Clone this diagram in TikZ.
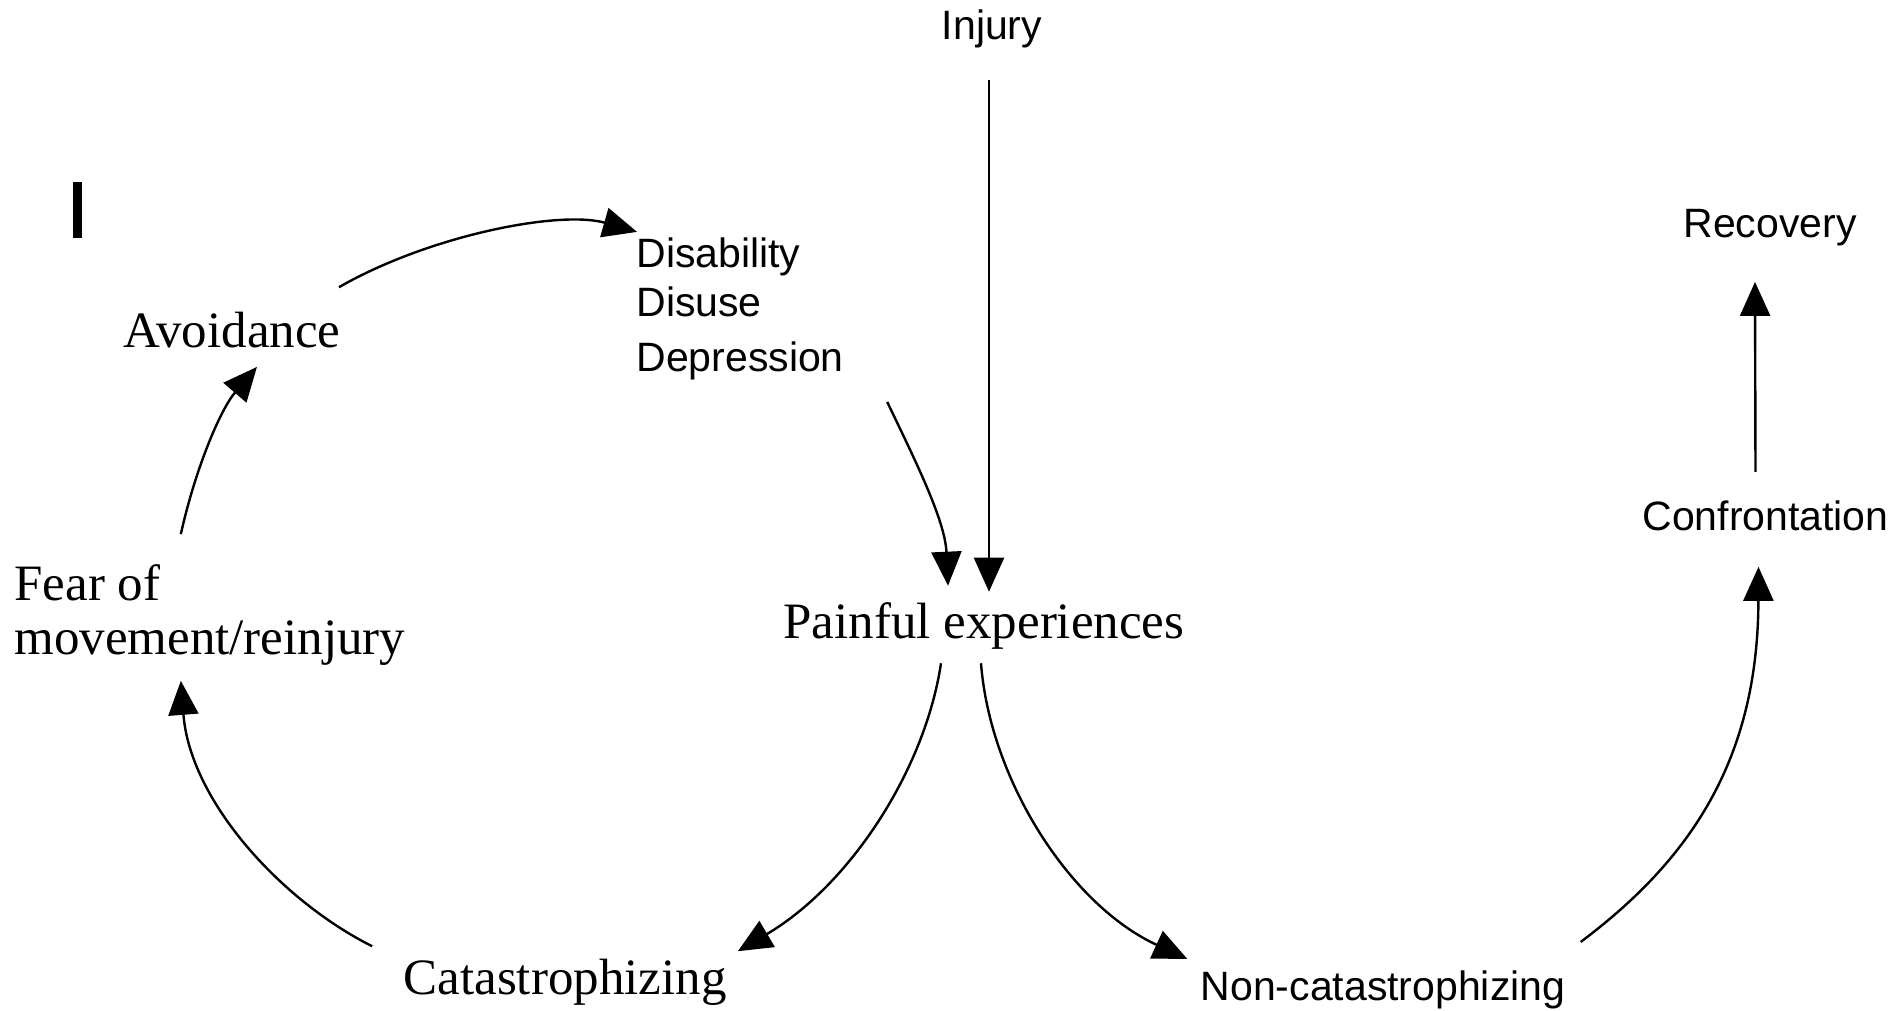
\documentclass[tikz,border=0pt]{standalone}
\usepackage{fontspec}
\setmainfont{Liberation Serif}
\newfontfamily\arialfont{Liberation Sans}
\usetikzlibrary{arrows.meta}

\tikzset{
    seriftext/.style={inner sep=0pt, font=\fontsize{25.5}{27}\selectfont},
    sanstext/.style={inner sep=0pt, font=\arialfont\fontsize{20.5}{24}\selectfont},
    arr/.style={-{Triangle[length=17pt,width=15pt]}, line width=1.2pt},
}

\begin{document}
\begin{tikzpicture}[x=0.5pt, y=-0.5pt]
    \useasboundingbox (0,0) rectangle (1889,1011);

    % labels of the cycle
    \node[sanstext, anchor=base] (injury) at (992,40) {Injury};
    \node[sanstext, anchor=base west] (disab) at (636,267) {Disability};
    \node[sanstext, anchor=base west] (disuse) at (636,316) {Disuse};
    \node[sanstext, anchor=base west] (depress) at (636,371) {Depression};
    \node[seriftext, anchor=base west] (avoid) at (123,347) {Avoidance};
    \node[seriftext, anchor=west, align=left] (fear) at (14,615) {Fear of\\movement/reinjury};
    \node[seriftext, anchor=base] (painful) at (984,638) {Painful experiences};
    \node[seriftext, anchor=base] (cat) at (565,994) {Catastrophizing};
    \node[sanstext, anchor=base] (noncat) at (1383,1000) {Non-catastrophizing};
    \node[sanstext, anchor=base west] (confr) at (1642,530) {Confrontation};
    \node[sanstext, anchor=base] (recov) at (1770,237) {Recovery};

    % bar at top left
    \fill (73,182) rectangle (82,238);

    % arrows
    \draw[arr] ([shift={(-3,31)}]injury.south) -- ([shift={(5,-10)}]painful.north);
    \draw[arr] ([shift={(43,22)}]depress.south east) .. controls (915,460) and (945,520) .. ([shift={(-36,-16)}]painful.north);
    \draw[arr] ([shift={(-43,14)}]painful.south) .. controls (925,770) and (850,885) .. ([shift={(11,-7)}]cat.north east);
    \draw[arr] ([shift={(-31,-12)}]cat.north west) .. controls (280,900) and (190,800) .. ([shift={(-29,15)}]fear.south);
    \draw[arr] ([shift={(-29,-30)}]fear.north) .. controls (195,470) and (220,410) .. ([shift={(25,19)}]avoid.south);
    \draw[arr] ([shift={(-2,-24)}]avoid.north east) .. controls (430,235) and (560,210) .. ([shift={(1,-5)}]disab.north west);
    \draw[arr] ([shift={(-3,14)}]painful.south) .. controls (990,780) and (1070,905) .. ([shift={(-13,-11)}]noncat.north west);
    \draw[arr] ([shift={(15,-28)}]noncat.north east) .. controls (1690,860) and (1758,760) .. ([shift={(-7,36)}]confr.south);
    \draw[arr] ([shift={(-10,-28)}]confr.north) -- ([shift={(-15,36)}]recov.south);
\end{tikzpicture}
\end{document}
